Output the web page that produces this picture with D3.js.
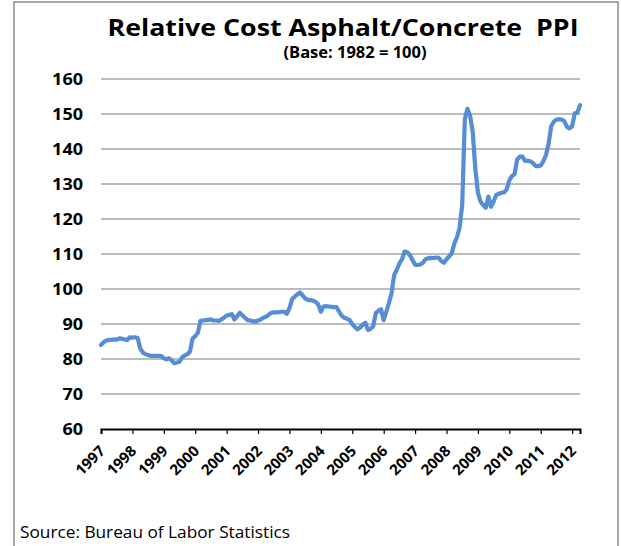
<!DOCTYPE html>
<html>
<head>
<meta charset="utf-8">
<script src="https://cdn.jsdelivr.net/npm/d3@7"></script>
<style>
  body { margin: 0; background: #fff; }
  svg { display: block; font-family: "Open Sans", sans-serif; }
</style>
</head>
<body>
<svg id="chart" width="621" height="546"></svg>
<script>
// monthly values, Jan 1997 .. Apr 2012
const startYear = 1997;
const ppi = [
  84.0, 84.8, 85.3, 85.4, 85.5, 85.6, 85.5, 85.9, 85.8, 85.6, 85.4, 86.2, // 1997
  86.1, 86.2, 86.0, 83.0, 81.8, 81.4, 81.1, 80.9, 80.9, 80.9, 80.9, 80.8, // 1998
  80.2, 79.9, 80.2, 79.6, 78.8, 79.0, 79.2, 80.5, 81.0, 81.4, 82.1, 85.9, // 1999
  86.5, 87.5, 90.9, 91.0, 91.1, 91.2, 91.3, 91.0, 91.0, 90.9, 91.3, 91.8, // 2000
  92.4, 92.6, 92.8, 91.3, 92.2, 93.2, 92.5, 91.8, 91.1, 91.0, 90.8, 90.7, // 2001
  91.0, 91.3, 91.8, 92.1, 92.6, 93.2, 93.3, 93.3, 93.4, 93.5, 93.5, 92.9, // 2002
  94.5, 97.1, 97.8, 98.5, 99.0, 98.2, 97.3, 96.9, 96.8, 96.7, 96.3, 95.6, // 2003
  93.5, 95.0, 95.1, 95.0, 94.9, 94.8, 94.8, 93.5, 92.3, 91.8, 91.5, 91.1, // 2004
  90.0, 89.1, 88.5, 89.0, 89.8, 90.4, 88.3, 88.6, 89.4, 93.1, 93.8, 94.2, // 2005
  91.1, 93.5, 96.0, 98.8, 104.0, 105.5, 107.3, 108.5, 110.7, 110.5, 109.7, 108.3, // 2006
  106.9, 106.9, 107.0, 107.5, 108.5, 108.8, 108.9, 108.8, 109.0, 108.9, 108.0, 107.5, // 2007
  108.5, 109.3, 110.2, 113.0, 114.8, 117.5, 124.0, 148.5, 151.5, 149.5, 145.0, 134.5, // 2008
  127.5, 125.0, 124.0, 123.2, 126.4, 123.5, 125.0, 126.9, 127.2, 127.5, 127.6, 128.5, // 2009
  131.0, 132.3, 132.8, 137.0, 137.8, 137.8, 136.6, 136.6, 136.5, 136.0, 135.2, 135.1, // 2010
  135.3, 136.5, 138.3, 141.5, 146.5, 147.8, 148.4, 148.5, 148.4, 148.0, 146.3, 145.9, // 2011
  146.5, 150.2, 150.4, 152.5 // 2012
];
const yearLabels = d3.range(1997, 2013);
const yTicks = d3.range(60, 161, 10);
const titleText = "Relative Cost Asphalt/Concrete  PPI";
const subtitleText = "(Base: 1982 = 100)";
const sourceText = "Source: Bureau of Labor Statistics";

const svg = d3.select('#chart');

// outer frame
svg.append('rect')
  .attr('x', 14).attr('y', 2)
  .attr('width', 604).attr('height', 560)
  .attr('fill', 'none')
  .attr('stroke', '#8c8c8c')
  .attr('stroke-width', 1.5);

const x = d3.scaleLinear()
  .domain([0, ppi.length - 1])
  .range([101, 580]);
const y = d3.scaleLinear()
  .domain([60, 160])
  .range([429, 79]);

// gridlines
svg.append('g')
  .selectAll('line')
  .data(yTicks.filter(d => d > 60))
  .enter()
  .append('line')
  .attr('x1', 101).attr('x2', 580)
  .attr('y1', d => y(d)).attr('y2', d => y(d))
  .attr('stroke', '#a6a6a6')
  .attr('stroke-width', 1.5);

// y labels
svg.append('g')
  .selectAll('text')
  .data(yTicks)
  .enter()
  .append('text')
  .attr('x', 83)
  .attr('y', d => y(d) + 5.5)
  .attr('text-anchor', 'end')
  .attr('font-size', 15.5)
  .attr('font-weight', 'bold')
  .attr('fill', '#000')
  .attr('textLength', d => String(d).length * 10.3)
  .attr('lengthAdjust', 'spacingAndGlyphs')
  .text(d => d);

// x axis
const xAxis = d3.axisBottom(x)
  .tickValues(yearLabels.map(yr => (yr - startYear) * 12))
  .tickSize(5)
  .tickFormat('');
const gx = svg.append('g')
  .attr('transform', `translate(0, ${y(60)})`)
  .call(xAxis);
gx.select('.domain').attr('stroke', '#000').attr('stroke-width', 2);
gx.selectAll('.tick line').attr('stroke', '#000').attr('stroke-width', 1.2);

svg.append('g')
  .selectAll('text')
  .data(yearLabels)
  .enter()
  .append('text')
  .attr('transform', d => `translate(${x((d - startYear) * 12) + 5}, ${y(60) + 23}) rotate(-45)`)
  .attr('text-anchor', 'end')
  .attr('font-size', 15)
  .attr('font-weight', 'bold')
  .attr('fill', '#000')
  .text(d => d);

// series
const line = d3.line()
  .x((d, i) => x(i))
  .y(d => y(d));
svg.append('path')
  .datum(ppi)
  .attr('d', line)
  .attr('fill', 'none')
  .attr('stroke', '#558ed5')
  .attr('stroke-width', 4.2)
  .attr('stroke-linejoin', 'round')
  .attr('stroke-linecap', 'round');

// titles
svg.append('text')
  .attr('x', 343).attr('y', 36)
  .attr('text-anchor', 'middle')
  .attr('font-size', 23)
  .attr('font-weight', 'bold')
  .attr('textLength', 471)
  .attr('lengthAdjust', 'spacingAndGlyphs')
  .style('white-space', 'pre')
  .text(titleText);
svg.append('text')
  .attr('x', 355).attr('y', 58)
  .attr('text-anchor', 'middle')
  .attr('font-size', 16)
  .attr('font-weight', 'bold')
  .attr('textLength', 143)
  .attr('lengthAdjust', 'spacingAndGlyphs')
  .text(subtitleText);

svg.append('text')
  .attr('x', 20).attr('y', 538)
  .attr('font-size', 16)
  .attr('textLength', 270)
  .attr('lengthAdjust', 'spacingAndGlyphs')
  .text(sourceText);
</script>
</body>
</html>
